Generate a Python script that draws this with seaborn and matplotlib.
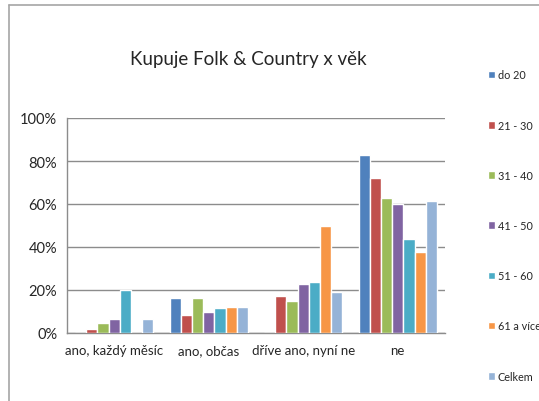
import numpy as np
import pandas as pd
import matplotlib.pyplot as plt
import seaborn as sns
from matplotlib.lines import Line2D
from matplotlib.ticker import PercentFormatter

categories = ['ano, každý měsíc', 'ano, občas', 'dříve ano, nyní ne', 'ne']
groups = ['do 20', '21 - 30', '31 - 40', '41 - 50', '51 - 60', '61 a více', 'Celkem']
do_20 = [0.0, 16.3, 0.0, 83.0]
v21_30 = [1.7, 8.2, 17.0, 72.3]
v31_40 = [4.8, 16.3, 14.9, 63.0]
v41_50 = [6.4, 9.6, 22.9, 60.0]
v51_60 = [20.0, 11.6, 23.7, 43.5]
v61_vice = [0.0, 12.2, 49.7, 37.6]
celkem = [6.4, 12.2, 19.0, 61.6]
colors = ['#4F81BD', '#C0504D', '#9BBB59', '#8064A2', '#4BACC6', '#F79646', '#95B3D7']

series = [do_20, v21_30, v31_40, v41_50, v51_60, v61_vice, celkem]
rows = []
for g, vals in zip(groups, series):
    for c, v in zip(categories, vals):
        rows.append({'kategorie': c, 'vek': g, 'podil': v})
df = pd.DataFrame(rows)

sns.set_style('white')
plt.rcParams['font.family'] = ['Lato', 'DejaVu Sans']

fig = plt.figure(figsize=(5.39, 4.02), dpi=100)
ax = fig.add_axes([67 / 539, 68 / 402, 378 / 539, 215 / 402])

sns.barplot(data=df, x='kategorie', y='podil', hue='vek', order=categories,
            hue_order=groups, palette=colors, width=0.83, saturation=1,
            ax=ax, zorder=3)

ax.set_ylim(0, 100)
ax.set_xlim(-0.5, 3.5)
ax.set_yticks(np.arange(0, 101, 20))
ax.yaxis.set_major_formatter(PercentFormatter(decimals=0))
ax.set_xlabel('')
ax.set_ylabel('')
ax.grid(axis='y', color='#8C8C8C', linewidth=1, zorder=0)
ax.grid(axis='x', visible=False)
for s in ['top', 'right']:
    ax.spines[s].set_visible(False)
for s in ['left', 'bottom']:
    ax.spines[s].set_color('#8C8C8C')
    ax.spines[s].set_linewidth(1)

ax.set_xticks([-0.5, 0.5, 1.5, 2.5, 3.5], minor=True)
ax.tick_params(axis='x', which='minor', length=5, color='#8C8C8C', direction='out')
ax.tick_params(axis='x', which='major', length=0, pad=8, labelsize=9.5)
ax.tick_params(axis='y', length=4, color='#8C8C8C', direction='out', labelsize=10.5, pad=3)

handles, labels = ax.get_legend_handles_labels()
ax.get_legend().remove()
fig.legend(handles, labels, loc='upper left', bbox_to_anchor=(484 / 539, 1 - 66 / 402),
           frameon=False, fontsize=7.8, labelspacing=3.62, handlelength=0.6,
           handleheight=0.7, handletextpad=0.25, borderaxespad=0)

fig.text(248 / 539, 1 - 60 / 402, 'Kupuje Folk & Country x věk', ha='center',
         va='center', fontsize=13.5)

fig.add_artist(Line2D([9 / 539, 9 / 539], [0, 1 - 6 / 402], color='#A6A6A6', linewidth=1.2))
fig.add_artist(Line2D([9 / 539, 1], [1 - 6 / 402, 1 - 6 / 402], color='#A6A6A6', linewidth=1.2))

fig.savefig('out.png', dpi=100)
